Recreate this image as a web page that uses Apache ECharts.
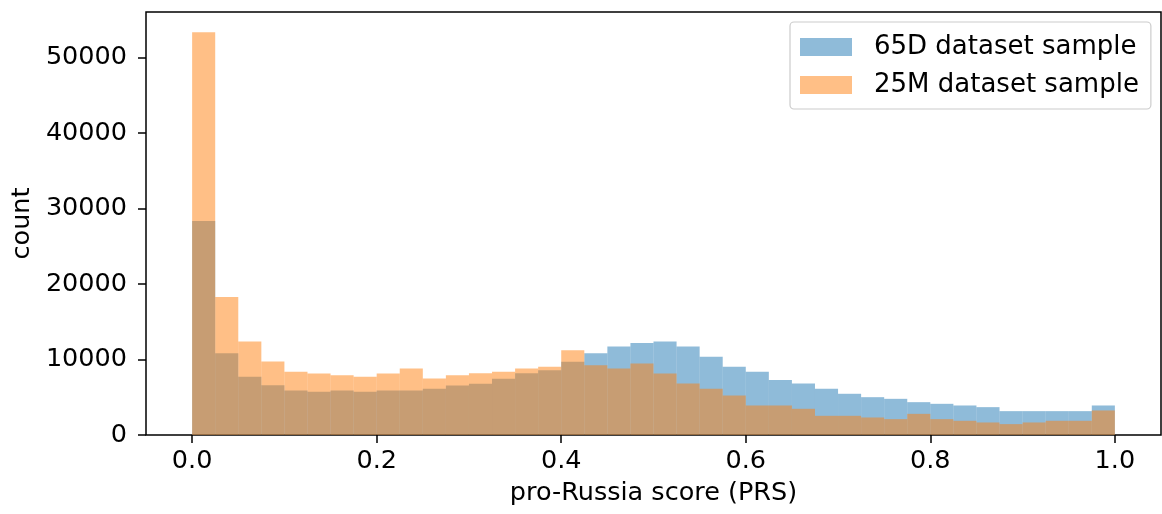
<!DOCTYPE html>
<html>
<head>
<meta charset="utf-8">
<script src="https://cdn.jsdelivr.net/npm/echarts@6/dist/echarts.min.js"></script>
<style>
html,body{margin:0;padding:0;background:#fff;}
#chart{width:1162px;height:514px;}
</style>
</head>
<body>
<div id="chart"></div>
<script>
// Histogram bin edges (pro-Russia score)
var binEdges = [0.000,0.025,0.050,0.075,0.100,0.125,0.150,0.175,0.200,0.225,
                0.250,0.275,0.300,0.325,0.350,0.375,0.400,0.425,0.450,0.475,
                0.500,0.525,0.550,0.575,0.600,0.625,0.650,0.675,0.700,0.725,
                0.750,0.775,0.800,0.825,0.850,0.875,0.900,0.925,0.950,0.975,1.000];
// Counts per bin, 65D dataset sample
var counts65D = [28360,10840,7710,6600,5900,5720,5900,5720,5900,5900,
                 6140,6560,6780,7440,8190,8590,9700,10840,11730,12170,
                 12390,11730,10360,9030,8370,7270,6820,6120,5460,5010,
                 4790,4350,4130,3910,3690,3160,3160,3160,3160,3910];
// Counts per bin, 25M dataset sample
var counts25M = [53360,18290,12390,9740,8370,8150,7930,7710,8150,8810,
                 7490,7930,8190,8370,8810,9030,11240,9250,8810,9470,
                 8150,6820,6120,5230,3910,3910,3470,2540,2540,2320,
                 2100,2800,2100,1880,1660,1440,1660,1880,1880,3250];
var xTicks = [0.0,0.2,0.4,0.6,0.8,1.0];
var yTicks = [0,10000,20000,30000,40000,50000];
var seriesNames = ['65D dataset sample','25M dataset sample'];

function toBins(counts){
  var out = [];
  for (var i = 0; i < counts.length; i++) out.push([binEdges[i], binEdges[i+1], counts[i]]);
  return out;
}
function renderBin(params, api){
  var p0 = api.coord([api.value(0), api.value(2)]);
  var p1 = api.coord([api.value(1), 0]);
  return {
    type: 'rect',
    shape: {x: p0[0], y: p0[1], width: p1[0]-p0[0], height: p1[1]-p0[1]},
    style: {fill: api.visual('color')}
  };
}
var FONT = 'DejaVu Sans';
var FS = 25.5;
var maxCount = Math.max.apply(null, counts25M.concat(counts65D));
var chart = echarts.init(document.getElementById('chart'), null, {renderer:'canvas'});
chart.setOption({
  animation: false,
  backgroundColor: '#fff',
  textStyle: {fontFamily: FONT},
  grid: {left: 146, right: 1, top: 12, bottom: 79, show: true, borderColor: '#000', borderWidth: 1.5,
         backgroundColor: 'transparent', containLabel: false, outerBoundsMode: 'none'},
  legend: {
    orient: 'vertical', left: 790, top: 22,
    padding: [12, 12, 11, 10],
    itemWidth: 52, itemHeight: 18, itemGap: 12,
    borderColor: '#cccccc', borderWidth: 1.2, borderRadius: 4,
    backgroundColor: 'rgba(255,255,255,0.8)',
    icon: 'rect',
    data: seriesNames,
    textStyle: {fontFamily: FONT, fontSize: 26, color: '#000', padding: [0,0,0,17]}
  },
  xAxis: {
    type: 'value', min: -0.05, max: 1.05,
    splitLine: {show: false},
    axisLine: {show: false, onZero: false},
    axisTick: {show: true, length: 8, lineStyle: {color: '#000', width: 1.5}, customValues: xTicks},
    axisLabel: {customValues: xTicks, fontFamily: FONT, fontSize: FS, color: '#000', margin: 13,
      formatter: function(v){ return v.toFixed(1); }},
    name: 'pro-Russia score (PRS)', nameLocation: 'middle', nameGap: 45,
    nameTextStyle: {fontFamily: FONT, fontSize: FS, color: '#000'}
  },
  yAxis: {
    type: 'value', min: 0, max: maxCount * 1.05,
    splitLine: {show: false},
    axisLine: {show: false, onZero: false},
    axisTick: {show: true, length: 8, lineStyle: {color: '#000', width: 1.5}, customValues: yTicks},
    axisLabel: {customValues: yTicks, fontFamily: FONT, fontSize: FS, color: '#000', margin: 19,
      formatter: function(v){ return String(v); }},
    name: 'count', nameLocation: 'middle', nameGap: 111, nameRotate: 90,
    nameTextStyle: {fontFamily: FONT, fontSize: FS, color: '#000'}
  },
  series: [
    {name: seriesNames[0], type: 'custom', renderItem: renderBin, data: toBins(counts65D),
     itemStyle: {color: 'rgba(31,119,180,0.5)'}, encode: {x: [0,1], y: 2}, clip: true},
    {name: seriesNames[1], type: 'custom', renderItem: renderBin, data: toBins(counts25M),
     itemStyle: {color: 'rgba(255,127,14,0.5)'}, encode: {x: [0,1], y: 2}, clip: true}
  ]
});
</script>
</body>
</html>
